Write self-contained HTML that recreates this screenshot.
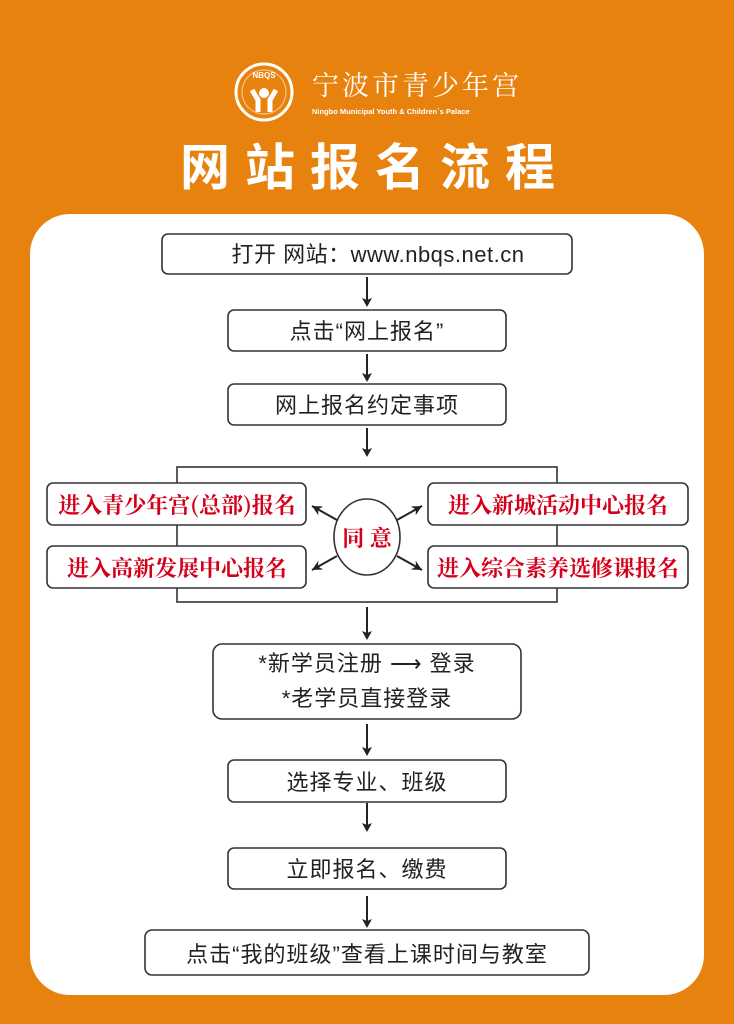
<!DOCTYPE html>
<html><head><meta charset="utf-8"><style>
html,body{margin:0;padding:0;width:734px;height:1024px;overflow:hidden;background:#e8820e}
svg{display:block}
text{font-family:"Liberation Sans","Noto Sans CJK SC",sans-serif}
</style></head><body>
<svg width="734" height="1024" viewBox="0 0 734 1024" xmlns="http://www.w3.org/2000/svg">
<defs><marker id="a" markerWidth="10" markerHeight="10" refX="7" refY="5" orient="auto" markerUnits="userSpaceOnUse"><path d="M0,0 L9,5 L0,10 L2,5Z" fill="#222"/></marker>
<marker id="b" markerWidth="12" markerHeight="12" refX="10" refY="6" orient="auto" markerUnits="userSpaceOnUse"><path d="M0,1 L10,6 L0,11 L3,6Z" fill="#222"/></marker></defs>
<rect width="734" height="1024" fill="#e8820e"/>
<!-- logo -->
<circle cx="264" cy="92" r="28" fill="none" stroke="#fff" stroke-width="3"/>
<circle cx="264" cy="92" r="22" fill="none" stroke="#fff" stroke-width="1" opacity=".6"/>
<text x="264" y="78" font-size="8" fill="#fff" text-anchor="middle" font-weight="bold">NBQS</text>
<path d="M252,90 L258,100 L258,112 M276,90 L270,100 L270,112" stroke="#fff" stroke-width="5" fill="none"/>
<circle cx="264" cy="93" r="5" fill="#fff"/>
<text x="312" y="95" font-size="27" fill="#fff" font-family="'Noto Serif CJK SC',serif" letter-spacing="3" style="font-family:'Noto Serif CJK SC',serif">宁波市青少年宫</text>
<text x="312" y="114" font-size="7.5" fill="#fff" font-weight="bold">Ningbo Municipal Youth &amp; Children`s Palace</text>
<text x="375" y="185" font-size="50" fill="#fff" font-weight="bold" text-anchor="middle" letter-spacing="15">网站报名流程</text>
<!-- panel -->
<rect x="30" y="214" width="674" height="781" rx="40" fill="#fff"/>
<g fill="#fff" stroke="#333" stroke-width="1.6">
<rect x="162" y="234" width="410" height="40" rx="6"/>
<rect x="228" y="310" width="278" height="41" rx="6"/>
<rect x="228" y="384" width="278" height="41" rx="6"/>
<rect x="177" y="467" width="380" height="135" fill="none"/>
<rect x="47" y="483" width="259" height="42" rx="6"/>
<rect x="47" y="546" width="259" height="42" rx="6"/>
<rect x="428" y="483" width="260" height="42" rx="6"/>
<rect x="428" y="546" width="260" height="42" rx="6"/>
<ellipse cx="367" cy="537" rx="33" ry="38"/>
<rect x="213" y="644" width="308" height="75" rx="9"/>
<rect x="228" y="760" width="278" height="42" rx="6"/>
<rect x="228" y="848" width="278" height="41" rx="6"/>
<rect x="145" y="930" width="444" height="45" rx="7"/>
</g>
<g stroke="#222" stroke-width="2" marker-end="url(#a)">
<line x1="367" y1="277" x2="367" y2="305"/>
<line x1="367" y1="354" x2="367" y2="380"/>
<line x1="367" y1="428" x2="367" y2="455"/>
<line x1="367" y1="607" x2="367" y2="638"/>
<line x1="367" y1="724" x2="367" y2="754"/>
<line x1="367" y1="803" x2="367" y2="830"/>
<line x1="367" y1="896" x2="367" y2="926"/>
</g>
<g stroke="#222" stroke-width="2" marker-end="url(#b)">
<line x1="337" y1="520" x2="312" y2="506"/>
<line x1="337" y1="556" x2="312" y2="570"/>
<line x1="397" y1="520" x2="422" y2="506"/>
<line x1="397" y1="556" x2="422" y2="570"/>
</g>
<g font-size="22" fill="#222" text-anchor="middle" letter-spacing="1">
<text x="378" y="262" letter-spacing="0.5">打开 网站：www.nbqs.net.cn</text>
<text x="367" y="339">点击“网上报名”</text>
<text x="367" y="413">网上报名约定事项</text>
<text x="367" y="671">*新学员注册 ⟶ 登录</text>
<text x="367" y="706">*老学员直接登录</text>
<text x="367" y="790">选择专业、班级</text>
<text x="367" y="877">立即报名、缴费</text>
<text x="367" y="962">点击“我的班级”查看上课时间与教室</text>
</g>
<g font-size="22" fill="#d4001a" text-anchor="middle" font-weight="bold">
<text x="177" y="513" style="font-family:'Noto Serif CJK SC',serif">进入青少年宫(总部)报名</text>
<text x="177" y="576" style="font-family:'Noto Serif CJK SC',serif">进入高新发展中心报名</text>
<text x="558" y="513" style="font-family:'Noto Serif CJK SC',serif">进入新城活动中心报名</text>
<text x="558" y="576" style="font-family:'Noto Serif CJK SC',serif">进入综合素养选修课报名</text>
<text x="367" y="546" style="font-family:'Noto Serif CJK SC',serif">同 意</text>
</g>
</svg>
</body></html>
